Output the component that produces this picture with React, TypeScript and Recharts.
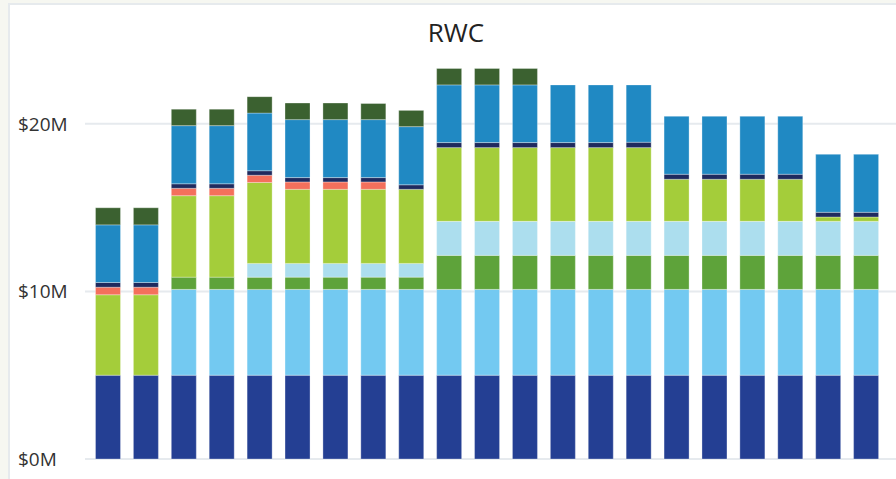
import React from "react";
import { BarChart, Bar, XAxis, YAxis, CartesianGrid } from "recharts";

const categories = ["1","2","3","4","5","6","7","8","9","10","11","12","13","14","15","16","17","18","19","20","21"];
const navy      = [5,5,5,5,5,5,5,5,5,5,5,5,5,5,5,5,5,5,5,5,5];
const lightBlue = [0,0,5.12,5.12,5.12,5.12,5.12,5.12,5.12,5.12,5.12,5.12,5.12,5.12,5.12,5.12,5.12,5.12,5.12,5.12,5.12];
const green     = [0,0,0.73,0.73,0.73,0.73,0.73,0.73,0.73,2.03,2.03,2.03,2.03,2.03,2.03,2.03,2.03,2.03,2.03,2.03,2.03];
const cyan      = [0,0,0,0,0.82,0.82,0.82,0.82,0.82,2.03,2.03,2.03,2.03,2.03,2.03,2.03,2.03,2.03,2.03,2.03,2.03];
const lime      = [4.8,4.8,4.86,4.86,4.83,4.42,4.42,4.42,4.42,4.4,4.4,4.4,4.4,4.4,4.4,2.51,2.51,2.51,2.51,0.26,0.26];
const salmon    = [0.45,0.45,0.44,0.44,0.43,0.44,0.44,0.44,0,0,0,0,0,0,0,0,0,0,0,0,0];
const darkNavy  = [0.28,0.28,0.27,0.27,0.27,0.26,0.26,0.26,0.27,0.3,0.3,0.3,0.3,0.3,0.32,0.3,0.3,0.3,0.3,0.28,0.28];
const blue      = [3.44,3.44,3.47,3.47,3.44,3.46,3.46,3.46,3.47,3.44,3.44,3.44,3.44,3.44,3.42,3.46,3.46,3.46,3.46,3.46,3.46];
const darkGreen = [1.02,1.02,0.98,0.98,0.98,0.99,0.99,0.96,0.97,0.98,0.98,0.98,0,0,0,0,0,0,0,0,0];
const yTicks = [0, 10, 20];

const seriesDefs = [
  { key: "navy", values: navy, color: "#243f93" },
  { key: "lightBlue", values: lightBlue, color: "#73c9f1" },
  { key: "green", values: green, color: "#5ea33a" },
  { key: "cyan", values: cyan, color: "#acdeee" },
  { key: "lime", values: lime, color: "#a4cd3a" },
  { key: "salmon", values: salmon, color: "#f4705c" },
  { key: "darkNavy", values: darkNavy, color: "#1f2a5e" },
  { key: "blue", values: blue, color: "#2089c3" },
  { key: "darkGreen", values: darkGreen, color: "#3b6130" },
];

const data = categories.map((c, i) => {
  const row: any = { name: c };
  seriesDefs.forEach((s) => (row[s.key] = s.values[i]));
  return row;
});

const YTick = (props: any) => {
  const { y, payload } = props;
  return (
    <text x={18} y={y} dy={7} textAnchor="start" fill="#333" fontSize={19} fontFamily="'Open Sans', sans-serif">
      {`$${payload.value}M`}
    </text>
  );
};

export default function App() {
  return (
    <div style={{ position: "fixed", left: 0, top: 0, width: 896, height: 479, background: "#f6f7f1", overflow: "hidden" }}>
      <div style={{ position: "absolute", left: 8, top: 3, width: 920, height: 500, background: "#fff", border: "2px solid #e6eaed" }} />
      <div style={{ position: "absolute", left: 0, top: 0 }}>
        <BarChart width={896} height={479} data={data} margin={{ top: 40, right: 0, left: 0, bottom: 20 }} barSize={25}>
          <CartesianGrid vertical={false} syncWithTicks stroke="#e6eaee" strokeWidth={2} />
          <XAxis dataKey="name" hide padding={{ left: 4.5, right: 10.5 }} />
          <YAxis width={85} domain={[0, 25]} ticks={yTicks} axisLine={false} tickLine={false} tick={<YTick />} />
          {seriesDefs.map((s) => (
            <Bar key={s.key} dataKey={s.key} stackId="a" fill={s.color} stroke="rgba(255,255,255,0.3)" strokeWidth={1} isAnimationActive={false} />
          ))}
        </BarChart>
      </div>
      <svg style={{ position: "absolute", left: 0, top: 0 }} width={896} height={60}>
        <text x={456} y={42} textAnchor="middle" fill="#222" fontSize={26} fontFamily="'Open Sans', sans-serif">RWC</text>
      </svg>
    </div>
  );
}
